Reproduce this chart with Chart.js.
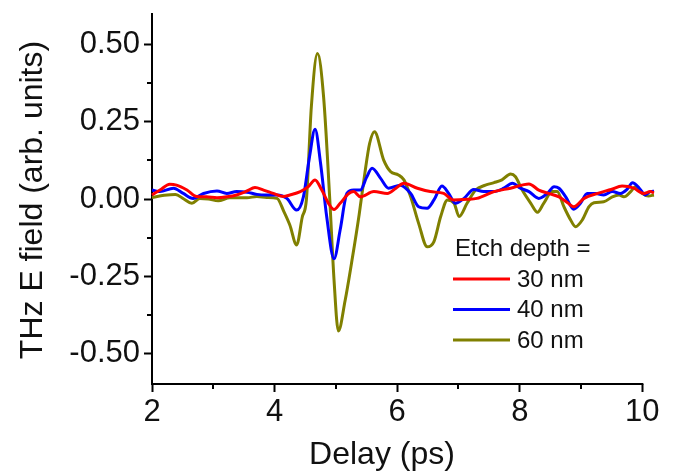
<!DOCTYPE html>
<html>
<head>
<meta charset="utf-8">
<script src="https://cdn.jsdelivr.net/npm/chart.js@4"></script>
<style>
  html, body { margin: 0; padding: 0; background: #fff; }
  #thz { display: block; }
</style>
</head>
<body>
<canvas id="thz" width="674" height="472"></canvas>
<script>
// Series data (delay in ps, field in arb. units)
var delay30 = [2.0, 2.13, 2.29, 2.40, 2.57, 2.73, 2.89, 3.06, 3.22, 3.38, 3.55, 3.68, 3.82, 3.98, 4.14, 4.25, 4.42, 4.55, 4.66, 4.77, 4.88, 4.97, 5.07, 5.21, 5.29, 5.40, 5.62, 5.84, 5.98, 6.11, 6.33, 6.54, 6.76, 6.92, 7.14, 7.30, 7.58, 7.85, 8.15, 8.31, 8.47, 8.64, 8.78, 8.88, 9.05, 9.27, 9.49, 9.67, 9.86, 10.02, 10.13, 10.19];
var field30 = [0.013, 0.029, 0.048, 0.045, 0.029, 0.008, 0.007, 0.004, 0.007, 0.013, 0.026, 0.037, 0.029, 0.018, 0.008, 0.013, 0.024, 0.040, 0.062, 0.029, -0.014, -0.034, -0.014, 0.018, 0.024, 0.007, 0.024, 0.018, 0.035, 0.051, 0.035, 0.024, 0.018, -0.003, -0.001, 0.002, 0.024, 0.035, 0.049, 0.029, 0.018, 0.007, -0.012, -0.025, 0.002, 0.018, 0.031, 0.042, 0.035, 0.018, 0.024, 0.020];

var delay40 = [2.0, 2.13, 2.35, 2.51, 2.67, 2.84, 3.06, 3.22, 3.38, 3.55, 3.71, 3.87, 4.04, 4.20, 4.36, 4.47, 4.57, 4.66, 4.75, 4.85, 4.97, 5.07, 5.18, 5.29, 5.40, 5.50, 5.59, 5.73, 5.86, 6.05, 6.22, 6.35, 6.49, 6.60, 6.73, 6.84, 6.95, 7.09, 7.25, 7.41, 7.58, 7.74, 7.88, 8.01, 8.15, 8.31, 8.45, 8.56, 8.64, 8.75, 8.88, 8.99, 9.10, 9.24, 9.37, 9.51, 9.64, 9.75, 9.84, 9.95, 10.05, 10.13, 10.19];
var field40 = [0.029, 0.024, 0.035, 0.018, 0.002, 0.018, 0.026, 0.018, 0.024, 0.022, 0.015, 0.013, 0.013, 0.002, -0.036, 0.007, 0.137, 0.226, 0.116, -0.057, -0.194, -0.100, 0.018, 0.029, 0.029, 0.070, 0.100, 0.067, 0.035, 0.045, 0.018, -0.025, -0.030, -0.003, 0.042, 0.018, -0.014, 0.002, 0.031, 0.024, 0.024, 0.035, 0.051, 0.035, 0.024, 0.002, 0.018, 0.040, 0.035, 0.007, -0.033, -0.014, 0.018, 0.018, 0.013, 0.024, 0.018, 0.031, 0.053, 0.035, 0.013, 0.024, 0.025];

var delay60 = [2.0, 2.2, 2.38, 2.52, 2.65, 2.78, 2.92, 3.08, 3.27, 3.55, 3.71, 3.87, 4.04, 4.15, 4.25, 4.36, 4.45, 4.52, 4.60, 4.70, 4.80, 4.90, 4.97, 5.04, 5.15, 5.27, 5.38, 5.47, 5.55, 5.63, 5.78, 5.89, 6.02, 6.11, 6.22, 6.35, 6.49, 6.60, 6.71, 6.82, 6.93, 7.01, 7.14, 7.28, 7.44, 7.58, 7.71, 7.85, 7.93, 8.04, 8.18, 8.29, 8.39, 8.53, 8.61, 8.72, 8.83, 8.91, 9.02, 9.13, 9.21, 9.37, 9.51, 9.62, 9.70, 9.81, 9.89, 10.0, 10.1, 10.19];
var field60 = [0.005, 0.012, 0.015, 0.0, -0.014, 0.002, 0.0, -0.006, 0.004, 0.004, 0.008, 0.005, 0.002, -0.040, -0.085, -0.149, -0.060, 0.0, 0.300, 0.472, 0.330, 0.0, -0.263, -0.428, -0.330, -0.190, -0.050, 0.080, 0.180, 0.218, 0.126, 0.089, 0.078, 0.062, 0.007, -0.079, -0.155, -0.138, -0.057, -0.003, -0.014, -0.057, -0.014, 0.029, 0.045, 0.053, 0.062, 0.081, 0.072, 0.029, -0.014, -0.043, -0.014, 0.024, 0.024, -0.025, -0.068, -0.090, -0.068, -0.025, -0.012, -0.009, 0.007, 0.013, 0.007, 0.024, 0.040, 0.018, 0.010, 0.013];

var seriesLabels = ['30 nm', '40 nm', '60 nm'];
var seriesColors = ['#ff0000', '#0000ff', '#808000'];
var legendTitle = 'Etch depth =';

var xMajorTicks = [2, 4, 6, 8, 10];
var xMinorTicks = [3, 5, 7, 9];
var yMajorTicks = [-0.5, -0.25, 0, 0.25, 0.5];
var yMinorTicks = [-0.375, -0.125, 0.125, 0.375];

var xTitle = 'Delay (ps)';
var yTitle = 'THz E field (arb. units)';

function toPoints(xs, ys) {
    var pts = [];
    for (var i = 0; i < xs.length; i++) {
        pts.push({ x: xs[i], y: ys[i] });
    }
    return pts;
}

var FONT = '"Liberation Sans", Arial, sans-serif';

// x axis line (stops at 10 while the traces run a little past it),
// minor ticks, axis titles and the in-plot legend
var extrasPlugin = {
    id: 'extras',
    afterDraw: function(chart) {
        var ctx = chart.ctx;
        var xs = chart.scales.x, ys = chart.scales.y;
        var area = chart.chartArea;
        ctx.save();
        ctx.strokeStyle = '#000';
        ctx.lineWidth = 2;
        ctx.beginPath();
        ctx.moveTo(area.left - 1, area.bottom);
        ctx.lineTo(xs.getPixelForValue(xMajorTicks[xMajorTicks.length - 1]) + 1, area.bottom);
        ctx.stroke();
        xMinorTicks.forEach(function(v) {
            var px = Math.round(xs.getPixelForValue(v));
            ctx.beginPath();
            ctx.moveTo(px, area.bottom);
            ctx.lineTo(px, area.bottom + 5);
            ctx.stroke();
        });
        yMinorTicks.forEach(function(v) {
            var py = Math.round(ys.getPixelForValue(v));
            ctx.beginPath();
            ctx.moveTo(area.left, py);
            ctx.lineTo(area.left - 5, py);
            ctx.stroke();
        });

        // axis titles
        ctx.fillStyle = '#111';
        ctx.font = '32px ' + FONT;
        ctx.textAlign = 'center';
        ctx.textBaseline = 'alphabetic';
        ctx.fillText(xTitle, 382, 464);
        ctx.save();
        ctx.translate(42, 200);
        ctx.rotate(-Math.PI / 2);
        ctx.fillText(yTitle, 0, 0);
        ctx.restore();

        // legend
        ctx.font = '24px ' + FONT;
        ctx.textAlign = 'left';
        ctx.textBaseline = 'middle';
        ctx.fillText(legendTitle, 455, 249);
        chart.data.datasets.forEach(function(ds, i) {
            var y = 279 + i * 30.5;
            ctx.strokeStyle = ds.borderColor;
            ctx.lineWidth = 3;
            ctx.beginPath();
            ctx.moveTo(453, y);
            ctx.lineTo(510, y);
            ctx.stroke();
            ctx.fillStyle = '#111';
            ctx.fillText(ds.label, 517, y + 1);
        });
        ctx.restore();
    }
};

var ctx = document.getElementById('thz').getContext('2d');
var chart = new Chart(ctx, {
    type: 'line',
    data: {
        datasets: [
            { label: seriesLabels[0], data: toPoints(delay30, field30), borderColor: seriesColors[0] },
            { label: seriesLabels[1], data: toPoints(delay40, field40), borderColor: seriesColors[1] },
            { label: seriesLabels[2], data: toPoints(delay60, field60), borderColor: seriesColors[2] }
        ].map(function(ds) {
            ds.borderWidth = 3;
            ds.pointRadius = 0;
            ds.fill = false;
            ds.cubicInterpolationMode = 'monotone';
            ds.clip = false;
            return ds;
        })
    },
    options: {
        responsive: false,
        animation: false,
        layout: { padding: { left: 0, right: 20, top: 14, bottom: 0 } },
        plugins: {
            legend: { display: false },
            tooltip: { enabled: false }
        },
        scales: {
            x: {
                type: 'linear',
                min: 2,
                max: 10.19,
                afterBuildTicks: function(scale) {
                    scale.ticks = xMajorTicks.map(function(v) { return { value: v }; });
                },
                afterFit: function(scale) {
                    scale.height = 88;
                    scale.paddingLeft = 0;
                    scale.paddingRight = 0;
                },
                grid: { drawOnChartArea: false, tickLength: 8, tickWidth: 2, tickColor: '#000' },
                border: { display: false },
                ticks: {
                    color: '#111',
                    font: { family: FONT, size: 31 },
                    padding: 2,
                    maxRotation: 0,
                    callback: function(v) { return String(v); }
                }
            },
            y: {
                type: 'linear',
                min: -0.6,
                max: 0.6,
                afterBuildTicks: function(scale) {
                    scale.ticks = yMajorTicks.map(function(v) { return { value: v }; });
                },
                afterFit: function(scale) {
                    scale.width = 152;
                    scale.paddingTop = 0;
                    scale.paddingBottom = 0;
                },
                grid: { drawOnChartArea: false, tickLength: 8, tickWidth: 2, tickColor: '#000' },
                border: { display: true, color: '#000', width: 2 },
                ticks: {
                    color: '#111',
                    font: { family: FONT, size: 31 },
                    padding: 4,
                    callback: function(v) { return Number(v).toFixed(2); }
                }
            }
        }
    },
    plugins: [extrasPlugin]
});
</script>
</body>
</html>
